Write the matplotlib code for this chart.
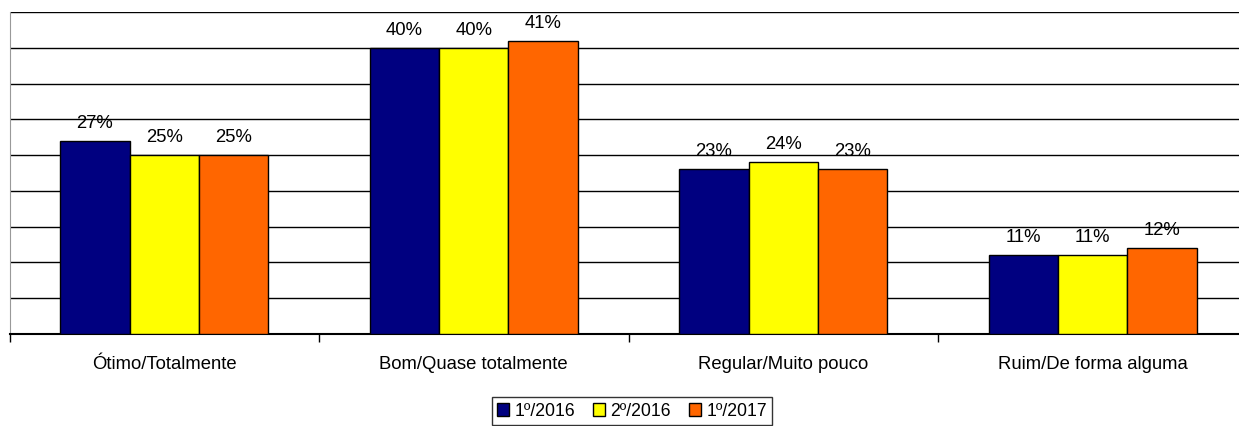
import matplotlib.pyplot as plt
import numpy as np
from matplotlib.patches import Patch

categorias = ['Ótimo/Totalmente', 'Bom/Quase totalmente', 'Regular/Muito pouco', 'Ruim/De forma alguma']
series = ['1º/2016', '2º/2016', '1º/2017']
v2016_1 = [27, 40, 23, 11]
v2016_2 = [25, 40, 24, 11]
v2017_1 = [25, 41, 23, 12]
cores = ['#000080', '#FFFF00', '#FF6600']

plt.rcParams['font.family'] = ['Liberation Sans', 'DejaVu Sans']

fig = plt.figure(figsize=(12.39, 4.26), dpi=100)
# area do grafico passa um pouco da borda direita, como no original
ax = fig.add_axes([9.5 / 1239, 1 - 334 / 426, 1238 / 1239, 322 / 426])

x = np.arange(len(categorias))
w = 0.224
for i, (vals, cor) in enumerate(zip([v2016_1, v2016_2, v2017_1], cores)):
    pos = x + (i - 1) * w
    ax.bar(pos, vals, width=w, color=cor, edgecolor='black', linewidth=1, zorder=3)
    for p, v in zip(pos, vals):
        ax.annotate(f'{v}%', (p, v), xytext=(0, 6.5), textcoords='offset points',
                    ha='center', va='bottom', fontsize=13.3, zorder=4)

ax.set_xlim(-0.5, len(categorias) - 0.5)
ax.set_ylim(0, 45)
ax.set_yticks(np.arange(0, 46, 5))
ax.yaxis.grid(True, color='black', linewidth=1)
ax.set_axisbelow(True)
ax.tick_params(axis='y', length=0, labelleft=False)

ax.set_xticks(x)
ax.set_xticklabels(categorias, fontsize=13.3)
ax.set_xticks(np.arange(-0.5, len(categorias), 1), minor=True)
ax.tick_params(axis='x', which='major', length=0, pad=15.5)
ax.tick_params(axis='x', which='minor', length=6, width=1, color='black')

ax.spines['top'].set_visible(False)
ax.spines['right'].set_visible(False)
ax.spines['left'].set_color('#999999')
ax.spines['bottom'].set_color('black')
ax.spines['bottom'].set_linewidth(1.5)

handles = [Patch(facecolor=c, edgecolor='black', label=s) for c, s in zip(cores, series)]
fig.legend(handles=handles, loc='center', bbox_to_anchor=(632 / 1239, 1 - 411 / 426),
           ncol=3, fontsize=12.7, frameon=True, fancybox=False, edgecolor='black',
           handlelength=0.7, handleheight=0.7, handletextpad=0.3, columnspacing=1.0,
           borderpad=0.3)

fig.savefig('out.png', dpi=100)
